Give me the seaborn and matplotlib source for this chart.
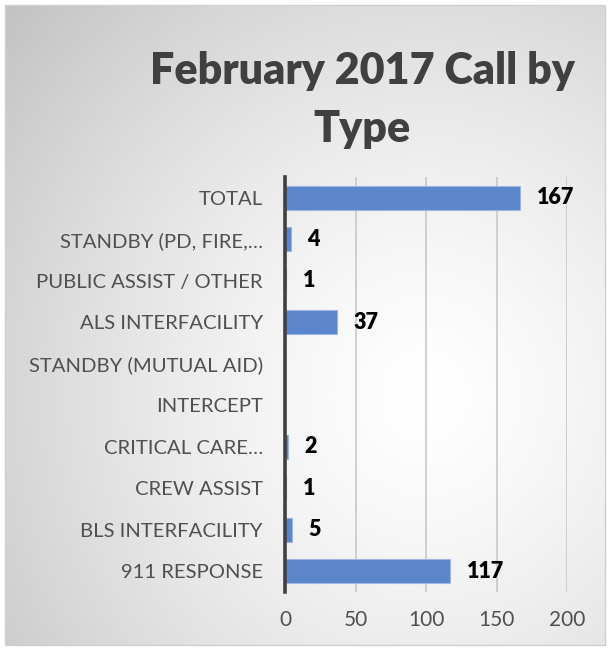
import numpy as np
import pandas as pd
import seaborn as sns
import matplotlib.pyplot as plt

categories = ["TOTAL", "STANDBY (PD, FIRE,…", "PUBLIC ASSIST / OTHER", "ALS INTERFACILITY",
              "STANDBY (MUTUAL AID)", "INTERCEPT", "CRITICAL CARE…", "CREW ASSIST",
              "BLS INTERFACILITY", "911 RESPONSE"]
calls = [167, 4, 1, 37, 0, 0, 2, 1, 5, 117]
xticks = [0, 50, 100, 150, 200]
title = "February 2017 Call by\nType"

sns.set_theme(style="white")
plt.rcParams['font.family'] = ['Lato', 'DejaVu Sans']

W, H = 608, 649
fig = plt.figure(figsize=(W / 100, H / 100), dpi=100, facecolor="white")

# background radial gradient (chart area)
bg = fig.add_axes([5 / W, 4 / H, 600 / W, 640 / H], zorder=-5)
yy, xx = np.mgrid[0:640, 0:600]
cx, cy = 420, 390
r = np.sqrt(((xx - cx) / 600) ** 2 + ((yy - cy) / 640) ** 2)
r = r / r.max()
val = 1.0 - 0.24 * np.clip(r, 0, 1) ** 1.4
img = np.dstack([val, val, val])
bg.imshow(img, aspect="auto", interpolation="bilinear")
bg.set_axis_off()
bg.add_patch(plt.Rectangle((0, 0), 1, 1, transform=bg.transAxes, fill=False,
                           edgecolor="#d0d0d0", lw=1.0, clip_on=False))

ax = fig.add_axes([285 / W, 1 - 592 / H, 282 / W, 415 / H])
ax.patch.set_alpha(0)

df = pd.DataFrame({"category": categories, "calls": calls})
sns.barplot(data=df, x="calls", y="category", orient="h", order=categories,
            color="#5B86CB", saturation=1, width=0.58, edgecolor="#9db5e0",
            linewidth=0.8, ax=ax)

for i, v in enumerate(calls):
    if v > 0:
        ax.annotate(str(v), xy=(v, i), xytext=(12, 0), textcoords="offset points",
                    ha="left", va="center", fontsize=15.5, fontweight="heavy",
                    color="#000000")

ax.set_xlim(0, 200)
ax.set_ylim(9.5, -0.5)
ax.set_xticks(xticks)
ax.set_xticklabels([str(t) for t in xticks])
ax.set_xlabel("")
ax.set_ylabel("")
ax.xaxis.grid(True, color="#c8c8c8", lw=1.2)
ax.set_axisbelow(True)
for side in ["top", "right", "bottom"]:
    ax.spines[side].set_visible(False)
ax.spines["left"].set_color("#404040")
ax.spines["left"].set_linewidth(2.6)
ax.spines["left"].set_zorder(5)
ax.tick_params(axis="y", length=0, pad=16, labelsize=14.6, labelcolor="#505050")
ax.tick_params(axis="x", length=0, pad=13, labelsize=15, labelcolor="#505050")

fig.text(362 / W, 1 - 100 / H, title, ha="center", va="center", fontsize=31,
         fontweight="heavy", color="#404040", linespacing=1.54)

fig.savefig("out.png", dpi=100, facecolor="white")
